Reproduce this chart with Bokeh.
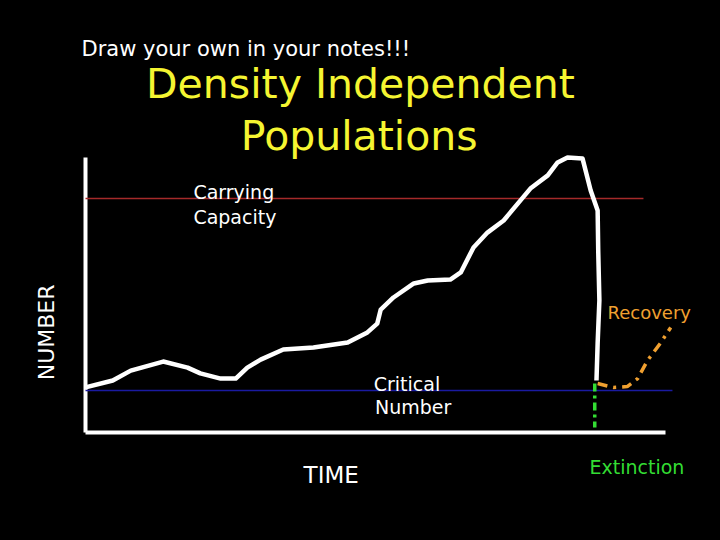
import math
from bokeh.plotting import figure
from bokeh.models import Range1d, Label
from bokeh.embed import file_html
from bokeh.resources import INLINE

# ---- data (time units 0..100, number units 0..100) ----
pop_time = [0, 4.7, 7.8, 13.4, 17.6, 19.8, 23.3, 25.9, 27.9, 30.2, 34.1, 39.3, 45.2,
            48.6, 50.3, 50.9, 53.1, 56.6, 59.0, 62.9, 64.7, 66.9, 69.3, 72.1, 75.0,
            76.7, 79.7, 81.4, 83.1, 85.7, 87.1, 88.3, 88.4, 88.6, 88.3, 88.1]
pop_number = [16.4, 18.9, 22.5, 25.8, 23.6, 21.5, 19.6, 19.6, 23.6, 26.5, 30.2, 30.9, 32.7,
              36.4, 39.6, 44.7, 49.1, 54.2, 55.3, 55.6, 58.2, 67.3, 72.7, 77.1, 84.4,
              88.7, 93.5, 98.2, 100.0, 99.6, 88.0, 80.7, 66.2, 48.0, 32.4, 18.9]

recovery_time = [88.3, 91.0, 93.4, 95.2, 96.9, 99.1, 100.9]
recovery_number = [17.8, 16.4, 16.7, 19.6, 26.2, 32.4, 38.2]

extinction_time = [87.8, 87.8]
extinction_number = [17.8, 1.8]

carrying_capacity = 85.1
carrying_time = [0, 96.2]
critical_number = 15.3
critical_time = [0, 101.2]

axis_time = [0, 100]
axis_number = [0, 100]

p = figure(width=704, height=524, output_backend="svg", toolbar_location=None,
           x_range=Range1d(-14.655, 106.724), y_range=Range1d(-33.45, 157.09),
           x_axis_location=None, y_axis_location=None, min_border=0)
p.background_fill_color = "black"
p.border_fill_color = "black"
p.outline_line_color = None
p.xgrid.visible = False
p.ygrid.visible = False

# axes
p.line([axis_time[0], axis_time[0]], axis_number, line_color="white", line_width=4)
p.line(axis_time, [axis_number[0], axis_number[0]], line_color="white", line_width=4)

# reference lines
p.line(carrying_time, [carrying_capacity] * 2, line_color="#A52A2A", line_width=1.5)
p.line(critical_time, [critical_number] * 2, line_color="#1A1AA0", line_width=1.5)

# population curve
p.line(pop_time, pop_number, line_color="white", line_width=4.5, line_join="round")
p.line(recovery_time, recovery_number, line_color="#F0A030", line_width=3.5,
       line_dash="10 6 3 6")
p.line(extinction_time, extinction_number, line_color="#33DD33", line_width=3.5,
       line_dash="8 4 3 4")

FONT = "DejaVu Sans"

def lab(x, y, text, size, color="white", align="left", baseline="alphabetic", angle=0):
    p.add_layout(Label(x=x, y=y, text=text, text_font=FONT, text_font_size=f"{size}px",
                       text_color=color, text_align=align, text_baseline=baseline,
                       angle=angle))

lab(47.4, 126.9, "Density Independent", 41, "#F5F531", "center")
lab(47.2, 108.0, "Populations", 41, "#F5F531", "center")
lab(-0.69, 139.3, "Draw your own in your notes!!!", 21)
lab(18.6, 87.6, "Carrying", 19)
lab(18.6, 78.5, "Capacity", 19)
lab(90.0, 43.6, "Recovery", 18, "#F0A030")
lab(49.7, 17.8, "Critical", 19)
lab(49.9, 9.1, "Number", 19)
lab(86.9, -12.7, "Extinction", 19, "#33DD33")
lab(37.6, -15.6, "TIME", 23)
lab(-6.81, 36.4, "NUMBER", 22, "white", "center", "middle", math.pi / 2)

html = file_html(p, INLINE)
html = html.replace("<head>", "<head><style>html,body{background:#000;}</style>", 1)
open("out.html", "w").write(html)
